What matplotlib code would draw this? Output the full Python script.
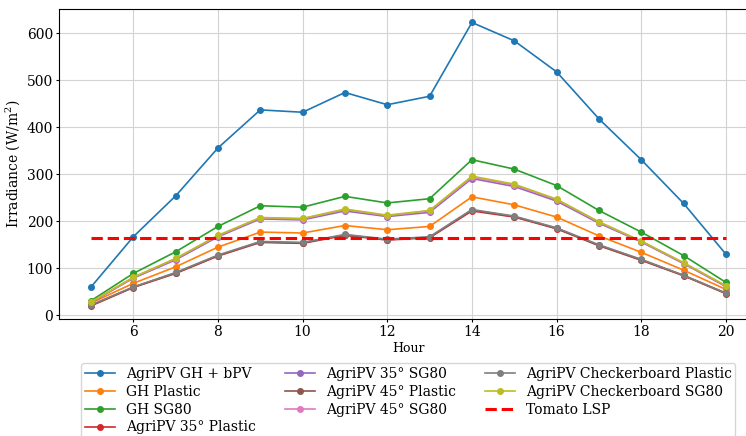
import matplotlib
matplotlib.use("Agg")
import matplotlib.pyplot as plt

hours = list(range(5, 21))

gh_bpv = [60, 167, 254, 356, 437, 432, 474, 448, 466, 623, 584, 518, 418, 331, 238, 130]
gh_plastic = [26, 68, 103, 145, 177, 175, 191, 182, 189, 252, 235, 209, 169, 134, 96, 55]
gh_sg80 = [31, 89, 135, 189, 233, 230, 253, 239, 248, 331, 311, 276, 223, 177, 127, 70]
pv35_plastic = [20, 59, 89, 126, 155, 153, 170, 160, 165, 222, 209, 184, 148, 117, 84, 46]
pv35_sg80 = [27, 79, 118, 167, 205, 203, 222, 210, 219, 291, 274, 243, 196, 156, 110, 61]
pv45_plastic = [21, 60, 90, 127, 156, 154, 171, 161, 166, 224, 210, 185, 149, 118, 85, 47]
pv45_sg80 = [28, 80, 120, 169, 207, 205, 225, 212, 222, 294, 277, 246, 198, 157, 111, 62]
cb_plastic = [22, 60, 91, 128, 157, 155, 172, 162, 167, 225, 211, 186, 150, 119, 85, 47]
cb_sg80 = [28, 81, 121, 170, 208, 206, 226, 213, 223, 296, 279, 247, 199, 158, 112, 63]
tomato_lsp = 165

series = [
    ("AgriPV GH + bPV", gh_bpv),
    ("GH Plastic", gh_plastic),
    ("GH SG80", gh_sg80),
    ("AgriPV 35° Plastic", pv35_plastic),
    ("AgriPV 35° SG80", pv35_sg80),
    ("AgriPV 45° Plastic", pv45_plastic),
    ("AgriPV 45° SG80", pv45_sg80),
    ("AgriPV Checkerboard Plastic", cb_plastic),
    ("AgriPV Checkerboard SG80", cb_sg80),
]

plt.rcParams['font.family'] = ['DejaVu Serif']
plt.rcParams['mathtext.fontset'] = 'dejavuserif'
plt.rcParams['font.size'] = 10

fig = plt.figure(figsize=(7.46, 4.36), dpi=100)
ax = fig.add_axes([0.0794, 0.2683, 0.9362, 0.7103])

for name, vals in series:
    ax.plot(hours, vals, marker='o', markersize=4, linewidth=1.2, label=name)

ax.plot(hours, [tomato_lsp] * len(hours), color='red', linestyle='--',
        linewidth=2.2, label='Tomato LSP')

ax.set_xlim(4.25, 20.75)
ax.set_ylim(-8, 651)
ax.set_xticks(range(6, 21, 2))
ax.grid(True, color='#d3d3d3', linewidth=0.8)
ax.tick_params(length=2, pad=2.5)
ax.set_xlabel('Hour', fontsize=9, labelpad=2)
ax.set_ylabel('Irradiance (W/m$^2$)', labelpad=3)

ax.legend(loc='upper center', bbox_to_anchor=(0.5473, 0.1667),
          bbox_transform=fig.transFigure, ncol=3, borderaxespad=0,
          borderpad=0.25, handlelength=2.15, handletextpad=0.8,
          columnspacing=2.1, labelspacing=0.28)

fig.savefig('out.png', dpi=100)
